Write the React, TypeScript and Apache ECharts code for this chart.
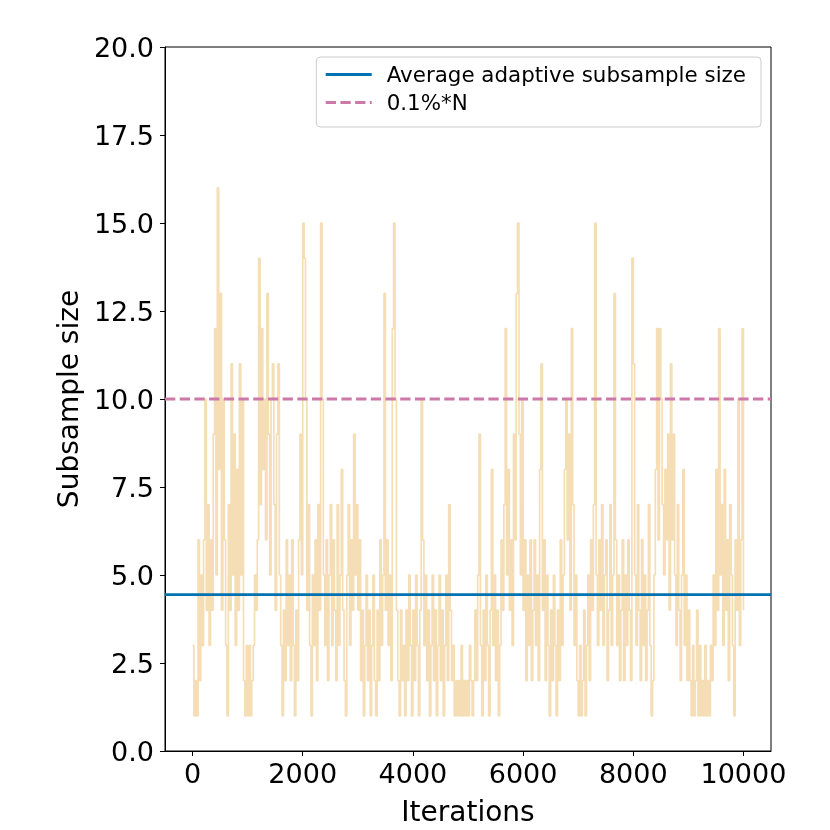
import React, { useEffect, useRef } from "react";
import * as echarts from "echarts";

// Iterations are sampled every 25 steps (0 .. 10000)
const ITERATION_STEP = 25;

// Adaptive subsample size
const SUBSAMPLE_SIZES: number[] = [
  3, 1, 2, 1, 6, 2, 5, 3, 6, 10, 4, 7, 3, 6, 4, 9, 12, 5, 16, 8,
  13, 4, 10, 6, 3, 1, 7, 4, 11, 5, 9, 3, 8, 4, 11, 5, 10, 2, 1, 3,
  1, 3, 1, 2, 3, 5, 4, 6, 14, 7, 12, 8, 10, 6, 13, 9, 5, 10, 11, 7,
  4, 9, 11, 5, 3, 1, 4, 2, 6, 3, 5, 2, 6, 3, 1, 4, 2, 6, 9, 5,
  15, 14, 10, 4, 7, 3, 1, 5, 3, 6, 2, 7, 4, 15, 10, 5, 3, 6, 2, 5,
  7, 3, 6, 4, 2, 7, 3, 5, 8, 4, 2, 1, 5, 7, 3, 6, 4, 9, 5, 7,
  4, 6, 2, 4, 1, 3, 5, 2, 4, 1, 3, 5, 2, 1, 4, 2, 6, 3, 5, 13,
  4, 6, 3, 5, 2, 12, 15, 10, 4, 2, 1, 4, 2, 3, 1, 4, 2, 5, 3, 1,
  4, 2, 5, 3, 1, 4, 10, 6, 3, 5, 2, 4, 1, 3, 5, 2, 4, 1, 3, 5,
  2, 4, 1, 3, 5, 2, 7, 4, 2, 3, 1, 2, 1, 2, 1, 3, 1, 2, 1, 2,
  1, 3, 2, 1, 2, 4, 2, 5, 9, 3, 1, 4, 2, 5, 3, 1, 4, 8, 3, 5,
  2, 4, 1, 3, 6, 4, 7, 12, 5, 8, 4, 6, 3, 9, 6, 13, 15, 9, 5, 10,
  4, 6, 2, 5, 3, 6, 2, 4, 6, 3, 5, 2, 8, 11, 4, 6, 2, 5, 3, 1,
  4, 2, 5, 3, 1, 4, 2, 6, 3, 5, 8, 10, 6, 9, 4, 12, 7, 3, 5, 2,
  1, 3, 1, 2, 4, 1, 3, 5, 2, 6, 4, 7, 15, 5, 3, 6, 4, 7, 3, 5,
  6, 2, 4, 7, 3, 5, 13, 6, 3, 5, 2, 4, 6, 2, 5, 3, 6, 4, 2, 14,
  11, 5, 3, 7, 4, 2, 6, 3, 5, 2, 4, 7, 3, 1, 2, 5, 8, 12, 6, 12,
  10, 7, 5, 8, 6, 9, 4, 11, 6, 9, 5, 3, 7, 4, 2, 5, 8, 3, 5, 2,
  4, 2, 1, 3, 1, 2, 4, 1, 3, 1, 2, 1, 3, 1, 2, 1, 3, 2, 5, 3,
  8, 4, 12, 5, 7, 3, 8, 4, 6, 2, 7, 5, 3, 1, 6, 4, 10, 3, 6, 12,
  4,
];

const AVERAGE_SUBSAMPLE = 4.44;
const THRESHOLD_SIZE = 10; // 0.1% * N

const X_MIN = -500;
const X_MAX = 10500;
const X_TICKS = [0, 2000, 4000, 6000, 8000, 10000];
const Y_MIN = 0;
const Y_MAX = 20;
const Y_INTERVAL = 2.5;

const SERIES_NAMES = ["Average adaptive subsample size", "0.1%*N"];

const FONT = "DejaVu Sans";

export default function App() {
  const ref = useRef<HTMLDivElement>(null);

  useEffect(() => {
    if (!ref.current) return;
    const chart = echarts.init(ref.current, null, { renderer: "svg" });
    const trace = SUBSAMPLE_SIZES.map((v, i) => [i * ITERATION_STEP, v]);

    chart.setOption({
      animation: false,
      textStyle: { fontFamily: FONT },
      grid: {
        left: 165,
        right: 59,
        top: 47,
        bottom: 74,
        show: true,
        borderColor: "#000",
        borderWidth: 1,
        backgroundColor: "transparent",
      },
      legend: {
        data: SERIES_NAMES,
        orient: "vertical",
        right: 69,
        top: 57,
        itemWidth: 46,
        itemHeight: 14,
        itemGap: 7,
        padding: [7, 15, 14, 8],
        backgroundColor: "rgba(255,255,255,0.8)",
        borderColor: "#cccccc",
        borderWidth: 1,
        borderRadius: 4,
        itemStyle: { opacity: 0 },
        lineStyle: { width: 2.8 },
        textStyle: {
          fontSize: 21.4,
          fontFamily: FONT,
          color: "#000",
          padding: [0, 0, 0, 10],
        },
      },
      xAxis: {
        type: "value",
        min: X_MIN,
        max: X_MAX,
        name: "Iterations",
        nameLocation: "middle",
        nameGap: 46,
        nameTextStyle: { fontSize: 28, color: "#000", fontFamily: FONT },
        axisLine: { show: true, onZero: false, lineStyle: { color: "#000", width: 1 } },
        axisTick: {
          show: true,
          length: 5,
          customValues: X_TICKS,
          lineStyle: { color: "#000", width: 1 },
        },
        axisLabel: {
          customValues: X_TICKS,
          fontSize: 27,
          color: "#000",
          margin: 9,
          fontFamily: FONT,
          formatter: (v: number) => String(v),
        },
        splitLine: { show: false },
      },
      yAxis: {
        type: "value",
        min: Y_MIN,
        max: Y_MAX,
        interval: Y_INTERVAL,
        name: "Subsample size",
        nameLocation: "middle",
        nameGap: 81,
        nameTextStyle: { fontSize: 28, color: "#000", fontFamily: FONT },
        axisLine: { show: true, onZero: false, lineStyle: { color: "#000", width: 1 } },
        axisTick: { show: true, length: 5, lineStyle: { color: "#000", width: 1 } },
        axisLabel: {
          fontSize: 27,
          color: "#000",
          margin: 11,
          fontFamily: FONT,
          formatter: (v: number) => v.toFixed(1),
        },
        splitLine: { show: false },
      },
      series: [
        {
          name: "Subsample size per iteration",
          type: "line",
          data: trace,
          step: "end",
          symbol: "none",
          silent: true,
          lineStyle: { color: "#F5DEB5", width: 1.7 },
          itemStyle: { color: "#F5DEB5" },
          z: 1,
        },
        {
          name: SERIES_NAMES[0],
          type: "line",
          data: [
            [X_MIN, AVERAGE_SUBSAMPLE],
            [X_MAX, AVERAGE_SUBSAMPLE],
          ],
          symbol: "none",
          silent: true,
          lineStyle: { color: "#0072B2", width: 2.8, type: "solid" },
          itemStyle: { color: "#0072B2" },
          z: 2,
        },
        {
          name: SERIES_NAMES[1],
          type: "line",
          data: [
            [X_MIN, THRESHOLD_SIZE],
            [X_MAX, THRESHOLD_SIZE],
          ],
          symbol: "none",
          silent: true,
          lineStyle: { color: "#CC79A7", width: 2.8, type: [10.3, 4.4] },
          itemStyle: { color: "#CC79A7" },
          z: 3,
        },
      ],
    });

    return () => chart.dispose();
  }, []);

  return (
    <div
      ref={ref}
      style={{ position: "fixed", left: 0, top: 0, width: 830, height: 830 }}
    />
  );
}
